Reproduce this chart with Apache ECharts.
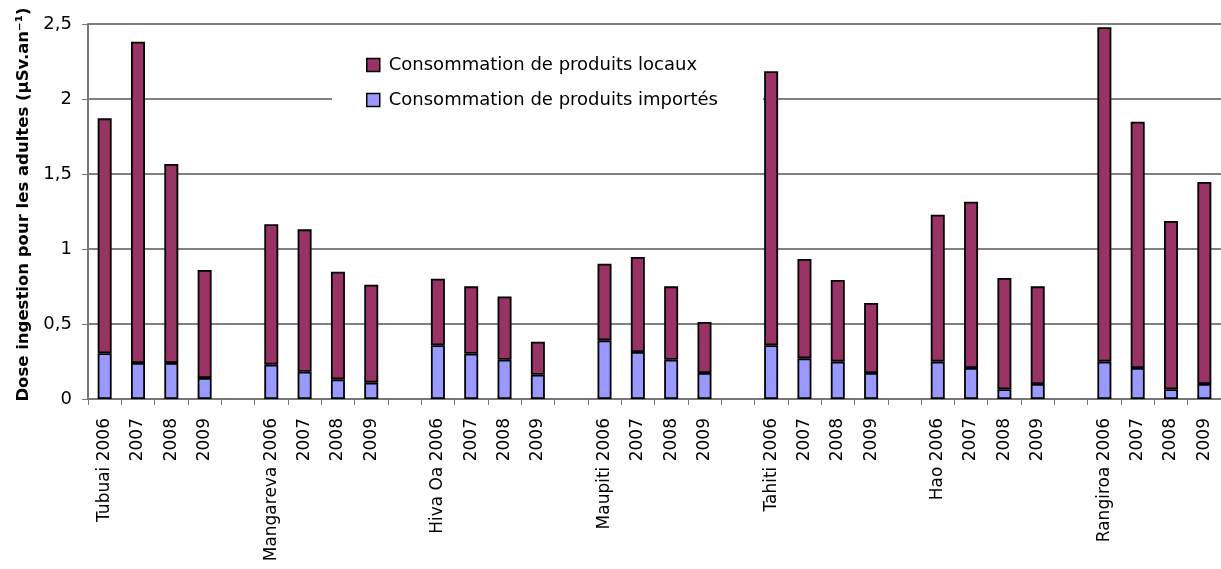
<!DOCTYPE html>
<html>
<head>
<meta charset="utf-8">
<script src="https://cdn.jsdelivr.net/npm/echarts@6/dist/echarts.min.js"></script>
<style>
html,body{margin:0;padding:0;background:#fff;}
#c{width:1221px;height:569px;}
</style>
</head>
<body>
<div id="c"></div>
<script>
const categories = [
  'Tubuai 2006','2007','2008','2009','',
  'Mangareva 2006','2007','2008','2009','',
  'Hiva Oa 2006','2007','2008','2009','',
  'Maupiti 2006','2007','2008','2009','',
  'Tahiti 2006','2007','2008','2009','',
  'Hao 2006','2007','2008','2009','',
  'Rangiroa 2006','2007','2008','2009'
];
// dose from imported products (bottom segment)
const imported = [
  0.305, 0.24, 0.24, 0.14, null,
  0.229, 0.182, 0.131, 0.109, null,
  0.358, 0.302, 0.262, 0.162, null,
  0.391, 0.313, 0.262, 0.173, null,
  0.358, 0.271, 0.249, 0.173, null,
  0.249, 0.207, 0.065, 0.10, null,
  0.249, 0.207, 0.065, 0.10
];
// total dose (top of stacked bar)
const totals = [
  1.871, 2.382, 1.567, 0.86, null,
  1.165, 1.131, 0.849, 0.762, null,
  0.802, 0.751, 0.684, 0.382, null,
  0.902, 0.947, 0.751, 0.513, null,
  2.185, 0.933, 0.793, 0.64, null,
  1.229, 1.315, 0.807, 0.751, null,
  2.478, 1.849, 1.187, 1.447
];
const local = totals.map((t, i) => t == null ? null : +(t - imported[i]).toFixed(3));
const yTicks = [0, 0.5, 1, 1.5, 2, 2.5];
const seriesNames = ['Consommation de produits locaux', 'Consommation de produits importés'];

const FONT = 'DejaVu Sans';
const chart = echarts.init(document.getElementById('c'), null, {renderer: 'canvas'});
chart.setOption({
  animation: false,
  backgroundColor: '#fff',
  textStyle: {fontFamily: FONT, color: '#000'},
  grid: {left: 88, top: 24, bottom: 170, right: -7, containLabel: false},
  legend: {
    orient: 'vertical',
    left: 332, top: 46,
    padding: [10, 45, 10, 34],
    backgroundColor: '#fff',
    itemWidth: 13, itemHeight: 13,
    itemGap: 17,
    icon: 'rect',
    data: seriesNames,
    itemStyle: {borderColor: '#000', borderWidth: 1.5},
    textStyle: {fontFamily: FONT, fontSize: 18, color: '#000', lineHeight: 18, padding: [0, 0, 0, 4]}
  },
  xAxis: {
    type: 'category',
    data: categories,
    boundaryGap: true,
    axisLine: {lineStyle: {color: '#777', width: 2}},
    axisTick: {show: true, length: 6, lineStyle: {color: '#777', width: 1}, interval: 0},
    axisLabel: {interval: 0, rotate: 90, margin: 19, fontSize: 17, fontFamily: FONT, color: '#000'}
  },
  yAxis: {
    type: 'value',
    min: yTicks[0], max: yTicks[yTicks.length - 1], interval: 0.5,
    name: 'Dose ingestion pour les adultes (µSv.an⁻¹)',
    nameLocation: 'middle',
    nameGap: 53,
    nameRotate: 90,
    nameTextStyle: {fontFamily: FONT, fontSize: 16.5, fontWeight: 'bold', color: '#000', padding: [0, 0, 0, 14]},
    axisLine: {show: true, lineStyle: {color: '#777', width: 2}},
    axisTick: {show: true, inside: false, length: 6, lineStyle: {color: '#777', width: 1}},
    axisLabel: {margin: 16, fontSize: 18, fontFamily: FONT, color: '#000',
      formatter: v => String(v).replace('.', ',')},
    splitLine: {show: true, lineStyle: {color: '#808080', width: 2}}
  },
  series: [
    {
      name: seriesNames[1], type: 'bar', stack: 'dose', data: imported,
      barWidth: 14,
      itemStyle: {color: '#9999FF', borderColor: '#000', borderWidth: 1.8}
    },
    {
      name: seriesNames[0], type: 'bar', stack: 'dose', data: local,
      barWidth: 14,
      itemStyle: {color: '#993366', borderColor: '#000', borderWidth: 1.8}
    }
  ]
});
</script>
</body>
</html>
